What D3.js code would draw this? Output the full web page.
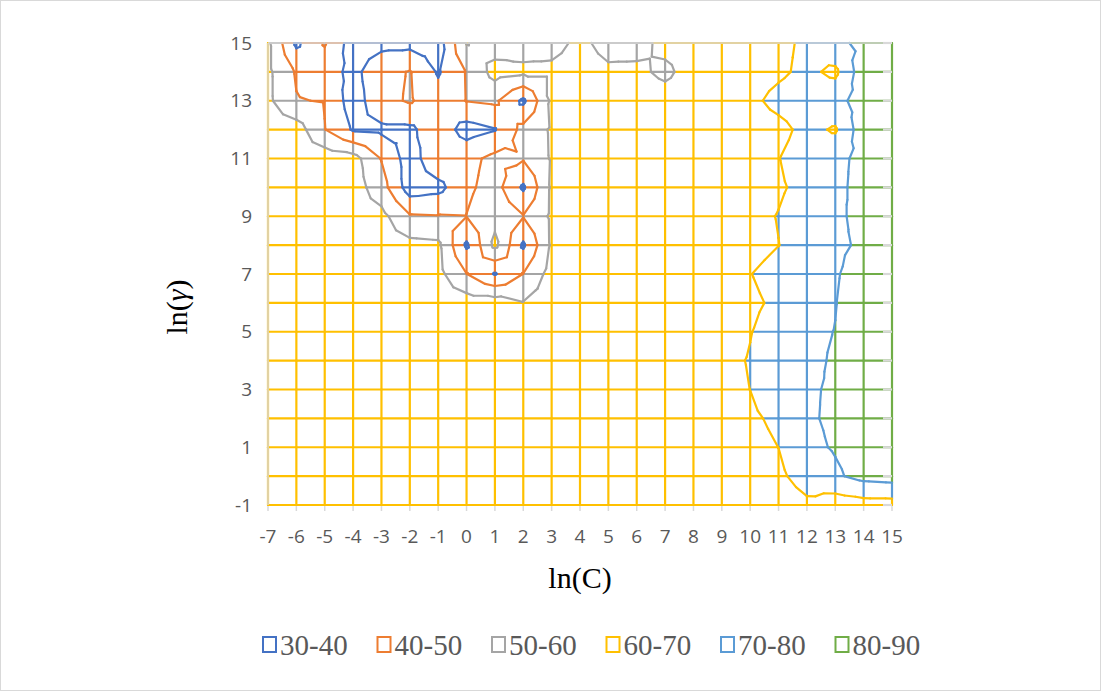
<!DOCTYPE html>
<html>
<head>
<meta charset="utf-8">
<script src="https://cdn.jsdelivr.net/npm/d3@7"></script>
<style>
  body { margin: 0; background: #fff; }
</style>
</head>
<body>
<div id="chart"></div>
<script>
// axis values: ln(C) along x, ln(gamma) along y
const lnC = d3.range(-7, 16);
const lnGamma = d3.range(-1, 16);
const yTicks = [-1, 1, 3, 5, 7, 9, 11, 13, 15];

// accuracy (%), one array per ln(gamma) row, ln(C) = -7 .. 15
const accY15 = [62, 38, 50.8, 35, 37, 37, 35, 60.5, 55, 56, 57, 62, 57, 57.5, 62, 63, 64, 66, 68, 71.5, 78, 82, 85];
const accY14 = [62, 49, 45, 37, 47, 50.5, 39, 50.5, 63.7, 62, 62, 64, 61.5, 61.5, 58.5, 63, 64, 66, 68.5, 72, 68, 86, 88];
const accY13 = [62, 50.5, 49.5, 35, 47, 51, 44, 50.3, 51.8, 38, 62, 65, 64, 64, 63, 64, 65, 68, 72.5, 75, 77, 84, 87];
const accY12 = [65, 65, 50.3, 39, 38, 38, 46, 36, 39.5, 53, 61.2, 65, 65, 66, 65, 64, 64, 65.5, 67.5, 72.5, 69, 86, 88];
const accY11 = [64, 65, 66, 64, 49.5, 35, 48, 47, 52.6, 50.9, 61, 65, 66, 65, 64, 65, 64, 66, 69.8, 74, 77, 83, 86];
const accY10 = [64, 65, 66, 65, 54.3, 35, 37, 48, 54, 38.5, 61.5, 64, 65, 66, 65, 64, 64, 66, 69, 72.3, 77, 84, 87];
const accY9 = [64, 64, 65, 65, 63, 51, 50.5, 50.2, 57, 50.5, 61.7, 65, 64, 65, 66, 65, 65, 68, 70.3, 74, 78, 83, 86];
const accY8 = [64, 64, 65, 65, 64, 63, 62, 38.5, 62.5, 38.5, 61.5, 64, 65, 64, 65, 66, 65, 67, 69.9, 73, 78, 81.6, 85];
const accY7 = [65, 64, 65, 66, 65, 64, 63, 50.2, 39.3, 50.2, 64, 65, 64, 65, 65, 66, 66, 69.8, 73, 76, 79, 85, 87];
const accY6 = [65, 65, 64, 65, 66, 65, 65, 65, 65, 60.5, 65, 66, 65, 64, 65, 65, 66, 68.5, 71.5, 76, 79.7, 85.7, 88];
const accY5 = [64, 65, 65, 64, 65, 66, 65, 64, 65, 64, 65, 65, 66, 65, 64, 65, 66, 69.7, 73.5, 78, 80.2, 85, 88];
const accY4 = [65, 64, 65, 65, 64, 65, 66, 65, 64, 65, 66, 65, 65, 66, 65, 66, 67.8, 70.5, 75, 78, 80.9, 85, 88];
const accY3 = [64, 65, 64, 65, 65, 64, 65, 66, 65, 65, 64, 65, 66, 65, 66, 65, 67, 70.05, 75, 79, 81, 86, 88];
const accY2 = [65, 64, 65, 66, 65, 65, 64, 65, 66, 65, 65, 64, 65, 66, 65, 65, 66, 68.5, 71.8, 79, 81.3, 86, 88];
const accY1 = [64, 65, 65, 64, 65, 66, 65, 64, 65, 66, 65, 65, 64, 65, 66, 65, 65, 67, 70.05, 78, 80.7, 84, 86];
const accY0 = [65, 64, 65, 65, 64, 65, 65, 66, 65, 64, 65, 66, 65, 64, 65, 66, 65, 66, 68, 74.5, 78.6, 83, 84];
const accYm1 = [64, 65, 64, 65, 65, 64, 65, 64, 65, 65, 64, 65, 64, 65, 65, 64, 63, 64, 64, 68, 64.3, 66, 66];

// bands
const bandNames = ['30-40', '40-50', '50-60', '60-70', '70-80', '80-90'];
const bandColors = ['#4472C4', '#ED7D31', '#A5A5A5', '#FFC000', '#5B9BD5', '#70AD47'];
const levels = [40, 50, 60, 70, 80];

// rows indexed bottom-up, same order as lnGamma
const grid = [accYm1, accY0, accY1, accY2, accY3, accY4, accY5, accY6, accY7,
  accY8, accY9, accY10, accY11, accY12, accY13, accY14, accY15];

const W = 1107, H = 693;
const svg = d3.select('#chart').append('svg')
  .attr('width', W)
  .attr('height', H)
  .style('font-family', '"Open Sans", sans-serif');

// chart area border
svg.append('rect')
  .attr('x', 0.5).attr('y', 0.5)
  .attr('width', W - 7).attr('height', H - 3)
  .attr('fill', '#fff')
  .attr('stroke', '#D9D9D9');

const x = d3.scaleLinear().domain([-7, 15]).range([268, 892]);
const y = d3.scaleLinear().domain([-1, 15]).range([505, 43]);

const band = v => Math.max(0, Math.min(5, Math.floor((v - 30) / 10)));

// wireframe mesh: every grid edge cut at the contour levels and coloured by band
const meshSegs = [];
function addEdge(x0, y0, x1, y1, a, b) {
  const ts = [0];
  levels.forEach(L => {
    if ((a - L) * (b - L) < 0) ts.push((L - a) / (b - a));
  });
  ts.push(1);
  ts.sort((p, q) => p - q);
  for (let k = 0; k < ts.length - 1; k++) {
    const tm = (ts[k] + ts[k + 1]) / 2;
    meshSegs.push({
      x1: x0 + (x1 - x0) * ts[k], y1: y0 + (y1 - y0) * ts[k],
      x2: x0 + (x1 - x0) * ts[k + 1], y2: y0 + (y1 - y0) * ts[k + 1],
      c: bandColors[band(a + (b - a) * tm)]
    });
  }
}
lnGamma.forEach((gy, j) => {
  lnC.forEach((cx, i) => {
    if (i < lnC.length - 1) addEdge(cx, gy, lnC[i + 1], gy, grid[j][i], grid[j][i + 1]);
    if (j < lnGamma.length - 1) addEdge(cx, gy, cx, lnGamma[j + 1], grid[j][i], grid[j + 1][i]);
  });
});

// contour lines: each cell split in four triangles around its centre
const contourSegs = [];
function triContour(p, q, r) {
  levels.forEach(L => {
    const pts = [];
    [[p, q], [q, r], [r, p]].forEach(([u, v]) => {
      const du = u[2] - L - 1e-7, dv = v[2] - L - 1e-7;
      if (du * dv < 0) {
        const t = du / (du - dv);
        pts.push([u[0] + (v[0] - u[0]) * t, u[1] + (v[1] - u[1]) * t]);
      }
    });
    if (pts.length === 2) {
      contourSegs.push({
        x1: pts[0][0], y1: pts[0][1], x2: pts[1][0], y2: pts[1][1],
        c: bandColors[band(L - 1)]
      });
    }
  });
}
for (let j = 0; j < lnGamma.length - 1; j++) {
  for (let i = 0; i < lnC.length - 1; i++) {
    const p00 = [lnC[i], lnGamma[j], grid[j][i]];
    const p10 = [lnC[i + 1], lnGamma[j], grid[j][i + 1]];
    const p11 = [lnC[i + 1], lnGamma[j + 1], grid[j + 1][i + 1]];
    const p01 = [lnC[i], lnGamma[j + 1], grid[j + 1][i]];
    const m = [(lnC[i] + lnC[i + 1]) / 2, (lnGamma[j] + lnGamma[j + 1]) / 2,
      (p00[2] + p10[2] + p11[2] + p01[2]) / 4];
    triContour(p00, p10, m);
    triContour(p10, p11, m);
    triContour(p11, p01, m);
    triContour(p01, p00, m);
  }
}

const drawSegs = (segs, cls) => svg.append('g')
  .attr('class', cls)
  .selectAll('line')
  .data(segs)
  .join('line')
    .attr('x1', d => x(d.x1)).attr('y1', d => y(d.y1))
    .attr('x2', d => x(d.x2)).attr('y2', d => y(d.y2))
    .attr('stroke', d => d.c)
    .attr('stroke-width', 2.2)
    .attr('stroke-linecap', 'round');

drawSegs(meshSegs, 'mesh');
drawSegs(contourSegs, 'contours');

// plot frame bits in light gray (top, left, tick stubs)
const frame = svg.append('g').attr('stroke', '#D9D9D9').attr('stroke-width', 1.5);
frame.append('line').attr('x1', x(-7)).attr('x2', x(15)).attr('y1', y(15)).attr('y2', y(15));
frame.append('line').attr('x1', x(-7)).attr('x2', x(-7)).attr('y1', y(15)).attr('y2', y(-1));
frame.selectAll('.xt').data(lnC).join('line')
  .attr('x1', d => x(d)).attr('x2', d => x(d))
  .attr('y1', y(-1) + 1).attr('y2', y(-1) + 6);
frame.selectAll('.yt').data(lnGamma).join('line')
  .attr('x1', x(15) - 9).attr('x2', x(15))
  .attr('y1', d => y(d)).attr('y2', d => y(d))
  .attr('stroke-width', 2.2);

// tick labels
svg.append('g').selectAll('text').data(lnC).join('text')
  .attr('x', d => x(d))
  .attr('y', y(-1) + 38)
  .attr('text-anchor', 'middle')
  .attr('font-size', 19)
  .attr('fill', '#595959')
  .text(d => d);
svg.append('g').selectAll('text').data(yTicks).join('text')
  .attr('x', x(-7) - 16)
  .attr('y', d => y(d) + 6.5)
  .attr('text-anchor', 'end')
  .attr('font-size', 19)
  .attr('fill', '#595959')
  .text(d => d);

// axis titles
svg.append('text')
  .attr('x', 580).attr('y', 588)
  .attr('text-anchor', 'middle')
  .style('font-family', '"Liberation Serif", serif')
  .attr('font-size', 30)
  .attr('fill', '#000')
  .text('ln(C)');
const yt = svg.append('text')
  .attr('transform', 'translate(187,307) rotate(-90)')
  .attr('text-anchor', 'middle')
  .style('font-family', '"Liberation Serif", serif')
  .attr('font-size', 30)
  .attr('fill', '#000');
yt.append('tspan').text('ln(');
yt.append('tspan').attr('font-style', 'italic').text('γ');
yt.append('tspan').text(')');

// legend
const legend = svg.append('g').selectAll('g').data(bandNames).join('g')
  .attr('transform', (d, i) => `translate(${263 + i * 114.5},637)`);
legend.append('rect')
  .attr('width', 13).attr('height', 15)
  .attr('fill', '#fff')
  .attr('stroke', (d, i) => bandColors[i])
  .attr('stroke-width', 2);
legend.append('text')
  .attr('x', 17).attr('y', 18)
  .style('font-family', '"Liberation Serif", serif')
  .attr('font-size', 29)
  .attr('fill', '#595959')
  .text(d => d);
</script>
</body>
</html>
